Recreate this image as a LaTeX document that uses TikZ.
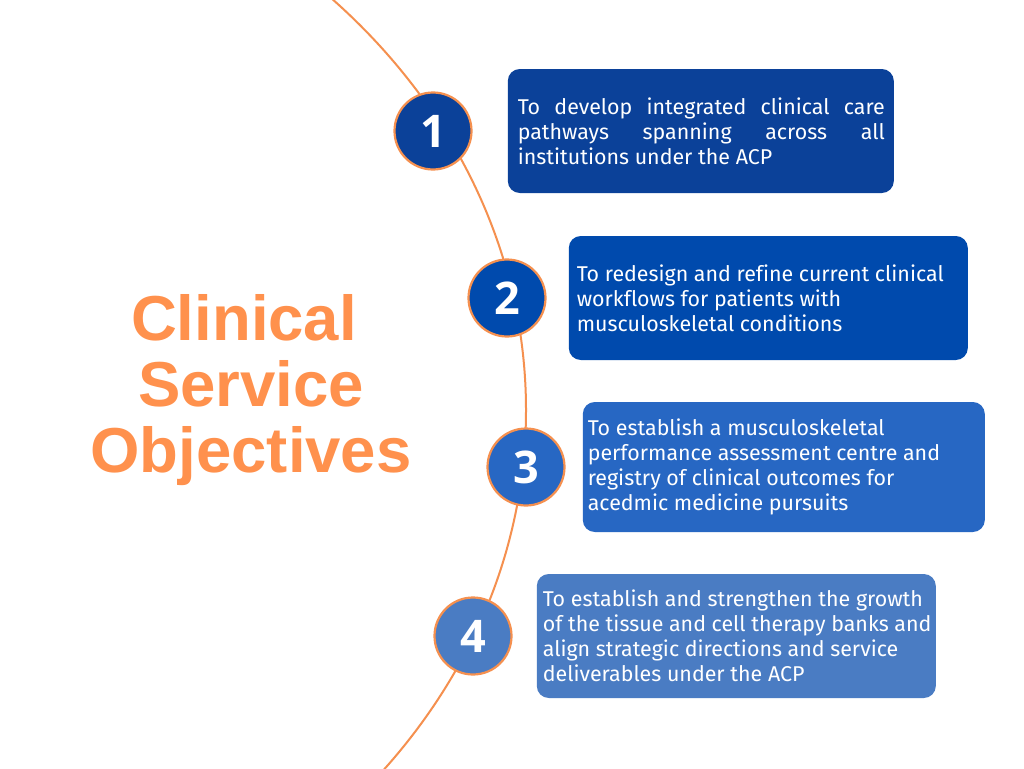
\documentclass[tikz,border=0pt]{standalone}
\usepackage{fontspec}
\setmainfont{Fira Sans}[Ligatures=NoCommon]
\newfontfamily\titlefont{Liberation Sans}
\newfontfamily\numfont{Open Sans}
\usetikzlibrary{positioning}

\definecolor{lineorange}{HTML}{F5904F}
\definecolor{titleorange}{HTML}{FF914D}
\definecolor{blueA}{HTML}{0B4199}
\definecolor{blueB}{HTML}{004AAD}
\definecolor{blueC}{HTML}{2767C3}
\definecolor{blueD}{HTML}{4A7CC3}

\begin{document}
\begin{tikzpicture}[
  x=1pt, y=-1pt,
  num/.style={circle, draw=lineorange, line width=2.2pt, minimum size=77pt, inner sep=0pt,
    text=white, font=\numfont\bfseries\fontsize{45}{45}\selectfont},
  objbox/.style={rounded corners=12pt, minimum height=124pt, inner sep=0pt},
  objtext/.style={anchor=west, align=left, text=white, inner sep=0pt,
    font=\fontsize{21.4}{25}\selectfont}
]
\useasboundingbox (0,0) rectangle (1024,768);
\fill[white] (0,0) rectangle (1024,768);

% the orange arc behind the numbers
\begin{scope}
  \clip (0,0) rectangle (1024,768);
  \draw[lineorange, line width=2pt] (-160,410) ellipse [x radius=686pt, y radius=590pt];
\end{scope}

\node[titleorange, align=center, font=\titlefont\bfseries\fontsize{63.5}{66}\selectfont] (title) at (251,390)
  {Clinical\hspace*{14pt}\\Service\\Objectives};

% numbers
\node[num, fill=blueA] (n1) at (433,131) {1};
\node[num, fill=blueB] (n2) at (507,298) {2};
\node[num, fill=blueC] (n3) at (526,467) {3};
\node[num, fill=blueD] (n4) at (473,636) {4};

% objective boxes
\node[objbox, fill=blueA, minimum width=386pt, right=35pt of n1] (b1) {};
\node[objbox, fill=blueB, minimum width=399pt, right=22pt of n2] (b2) {};
\node[objbox, fill=blueC, minimum width=402pt, minimum height=130pt, right=17pt of n3] (b3) {};
\node[objbox, fill=blueD, minimum width=399pt, right=24pt of n4] (b4) {};

\node[objtext] (t1) at ([xshift=10pt]b1.west)
  {\makebox[367pt][s]{To develop integrated clinical care}\\
   \makebox[367pt][s]{pathways spanning across all}\\
   institutions under the ACP};
\node[objtext] (t2) at ([xshift=8pt]b2.west)
  {To redesign and refine current clinical\\
   workflows for patients with\\
   musculoskeletal conditions};
\node[objtext] (t3) at ([xshift=5pt]b3.west)
  {To establish a musculoskeletal\\
   performance assessment centre and\\
   registry of clinical outcomes for\\
   acedmic medicine pursuits};
\node[objtext] (t4) at ([xshift=6pt]b4.west)
  {To establish and strengthen the growth\\
   of the tissue and cell therapy banks and\\
   align strategic directions and service\\
   deliverables under the ACP};
\end{tikzpicture}
\end{document}
